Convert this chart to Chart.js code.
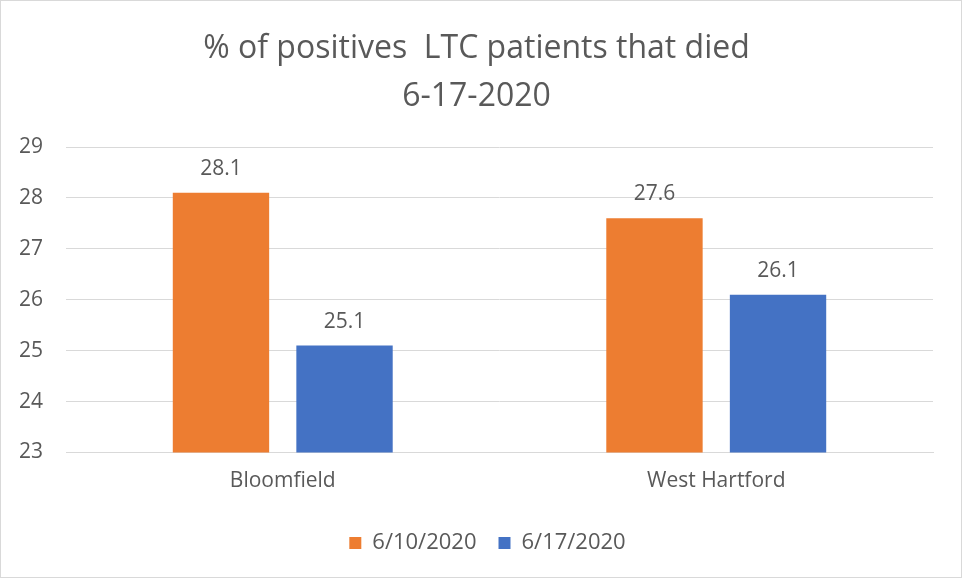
<!DOCTYPE html>
<html>
<head>
<meta charset="utf-8">
<script src="https://cdn.jsdelivr.net/npm/chart.js@4"></script>
<style>
  html, body { margin:0; padding:0; background:#fff; }
  #wrap { width:960px; height:576px; border:1px solid #d9d9d9; position:relative; }
</style>
</head>
<body>
<div id="wrap"><canvas id="chart"></canvas></div>
<script>
// data
const categories = ['Bloomfield', 'West Hartford'];
const seriesNames = ['6/10/2020', '6/17/2020'];
const june10 = [28.1, 27.6];
const june17 = [25.1, 26.1];
const titleLines = ['% of positives  LTC patients that died', '6-17-2020'];

const FONT = '"Open Sans", Lato, sans-serif';
const TEXT = '#595959';

// value labels above bars
const barLabels = {
  id: 'barLabels',
  afterDatasetsDraw(chart){
    const c = chart.ctx;
    c.save();
    c.font = '21px ' + FONT;
    c.fillStyle = TEXT;
    c.textAlign = 'center';
    c.textBaseline = 'middle';
    chart.data.datasets.forEach((ds, i) => {
      chart.getDatasetMeta(i).data.forEach((bar, j) => {
        c.fillText(ds.data[j].toFixed(1), bar.x, bar.y - 24);
      });
    });
    c.restore();
  }
};

// legend sits a little right of centre in the original
const legendShift = {
  id: 'legendShift',
  afterLayout(chart){
    if (chart.legend){ chart.legend.left += 11; chart.legend.right += 11; }
  }
};

new Chart(document.getElementById('chart'), {
  type: 'bar',
  data: {
    labels: categories,
    datasets: [
      { label: seriesNames[0], data: june10, backgroundColor: '#ED7D31' },
      { label: seriesNames[1], data: june17, backgroundColor: '#4472C4' }
    ]
  },
  options: {
    responsive: true,
    maintainAspectRatio: false,
    animation: false,
    categoryPercentage: 0.57,
    barPercentage: 0.78,
    layout: { padding: { top: 24, left: 19, right: 28, bottom: 13 } },
    plugins: {
      title: {
        display: true,
        text: titleLines,
        color: TEXT,
        font: { family: FONT, size: 32, weight: 'normal', lineHeight: 1.5 },
        padding: { top: 0, bottom: 26 }
      },
      legend: {
        position: 'bottom',
        labels: {
          color: TEXT,
          font: { family: FONT, size: 22 },
          boxWidth: 12, boxHeight: 12,
          padding: 22
        }
      },
      tooltip: { enabled: false }
    },
    scales: {
      x: {
        grid: { display: false, drawTicks: false },
        border: { color: '#d9d9d9', width: 1 },
        ticks: { color: TEXT, font: { family: FONT, size: 21, lineHeight: 0.55 }, padding: 23 }
      },
      y: {
        min: 23, max: 29,
        afterFit: s => { s.width = 46; },
        grid: { color: '#d9d9d9', drawTicks: false },
        border: { display: false },
        ticks: { stepSize: 1, color: TEXT, font: { family: FONT, size: 21 }, padding: 23 }
      }
    }
  },
  plugins: [barLabels, legendShift]
});
</script>
</body>
</html>
